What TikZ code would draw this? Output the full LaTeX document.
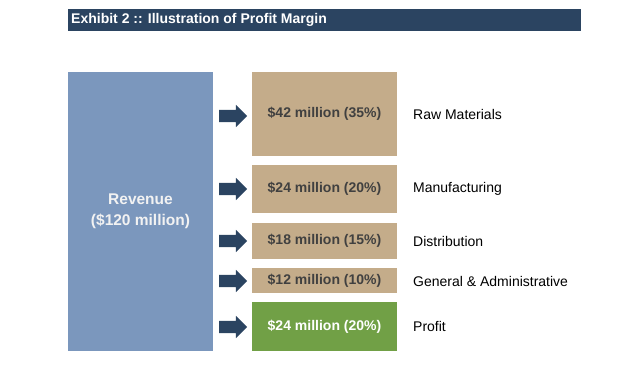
\documentclass[tikz,border=0pt]{standalone}
\usepackage{fontspec}
\setmainfont{Liberation Sans}
\usetikzlibrary{shapes.arrows}
\definecolor{navy}{HTML}{2B4461}
\definecolor{revblue}{HTML}{7B97BD}
\definecolor{tan}{HTML}{C4AC8A}
\definecolor{profitgreen}{HTML}{71A046}
\definecolor{boxtext}{HTML}{404040}
\definecolor{revtext}{HTML}{F2F2F2}
\begin{document}
\begin{tikzpicture}[x=1pt,y=-1pt,
  bar/.style={fill=navy,draw=none,inner sep=0pt,outer sep=0pt,minimum width=513pt,minimum height=22pt,anchor=north west},
  titletxt/.style={anchor=west,inner sep=0pt,text=white,font=\fontsize{14}{16}\selectfont\bfseries},
  revbox/.style={fill=revblue,draw=none,inner sep=0pt,outer sep=0pt,minimum width=145pt,minimum height=279pt,text=revtext,font=\fontsize{15.5}{21}\selectfont\bfseries,align=center},
  costbox/.style={fill=tan,draw=none,inner sep=0pt,outer sep=0pt,minimum width=145pt,text=boxtext,font=\fontsize{14}{16}\selectfont\bfseries},
  profbox/.style={costbox,fill=profitgreen,text=white},
  blockarrow/.style={single arrow,fill=navy,draw=none,inner xsep=0pt,inner ysep=6pt,outer sep=0pt,minimum height=28pt,single arrow head extend=5pt,single arrow tip angle=90,anchor=tip},
  lbl/.style={anchor=west,inner sep=0pt,text=black,font=\fontsize{14}{16}\selectfont}]
\useasboundingbox (0,0) rectangle (636,374);
\node[bar] (title) at (68,9) {};
\node[titletxt] (titletext) at (71,20) {Exhibit 2 :: Illustration of Profit Margin};
\node[revbox] (rev) at (140.5,211.5) {Revenue\\(\$120 million)};
\node[costbox,minimum height=84pt] (raw) at (324.5,114) {\$42 million (35\%)};
\node[costbox,minimum height=48pt] (mfg) at (324.5,189) {\$24 million (20\%)};
\node[costbox,minimum height=36pt] (dist) at (324.5,241) {\$18 million (15\%)};
\node[costbox,minimum height=25pt] (ga) at (324.5,280.5) {\$12 million (10\%)};
\node[profbox,minimum height=49pt] (prof) at (324.5,326.5) {\$24 million (20\%)};
\node[blockarrow] (a1) at (247,116) {};
\node[blockarrow] (a2) at (247,189) {};
\node[blockarrow] (a3) at (247,241) {};
\node[blockarrow] (a4) at (247,281) {};
\node[blockarrow] (a5) at (247,327) {};
\node[lbl] (l1) at (413,114) {Raw Materials};
\node[lbl] (l2) at (413,189) {Manufacturing};
\node[lbl] (l3) at (413,241) {Distribution};
\node[lbl] (l4) at (413,281) {General \& Administrative};
\node[lbl] (l5) at (413,326.5) {Profit};
\end{tikzpicture}
\end{document}
